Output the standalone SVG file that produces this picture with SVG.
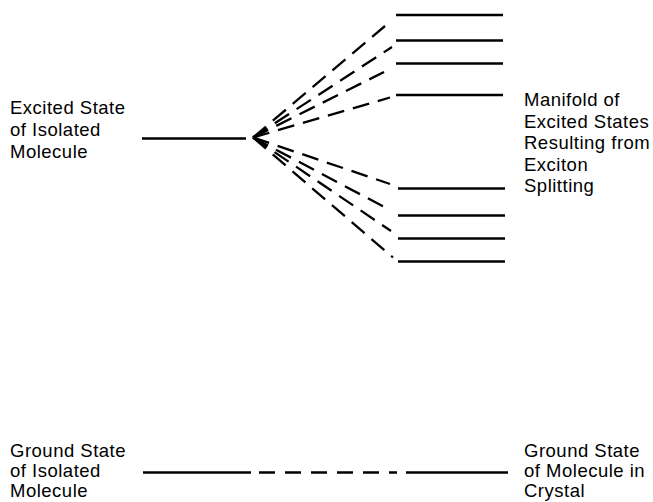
<svg xmlns="http://www.w3.org/2000/svg" width="653" height="502" viewBox="0 0 653 502">
<style>
.lvl{stroke:#000;stroke-width:2.3;fill:none}
.fan{stroke:#000;stroke-width:2.3;fill:none;stroke-dasharray:17 9}
.gnd{stroke:#000;stroke-width:2.3;fill:none;stroke-dasharray:16 10}
text{font-family:"Liberation Sans",Arial,sans-serif;font-size:18.5px;letter-spacing:0.5px;fill:#000}
</style>
<rect width="653" height="502" fill="#fff"/>
<g id="excited-isolated">
<line class="lvl" x1="142" y1="138.5" x2="246" y2="138.5"/>
<text x="10" y="113.5">Excited State</text>
<text x="10" y="135.5">of Isolated</text>
<text x="10" y="157.5">Molecule</text>
</g>
<g id="manifold">
<line class="lvl" x1="396" y1="15" x2="503" y2="15"/>
<line class="lvl" x1="396" y1="40.5" x2="503" y2="40.5"/>
<line class="lvl" x1="396" y1="63.5" x2="503" y2="63.5"/>
<line class="lvl" x1="396" y1="95" x2="503" y2="95"/>
<line class="lvl" x1="398" y1="188.5" x2="505" y2="188.5"/>
<line class="lvl" x1="398" y1="215.5" x2="505" y2="215.5"/>
<line class="lvl" x1="398" y1="238.5" x2="505" y2="238.5"/>
<line class="lvl" x1="398" y1="261.5" x2="505" y2="261.5"/>
<text x="524" y="106">Manifold of</text>
<text x="524" y="127.5">Excited States</text>
<text x="524" y="149">Resulting from</text>
<text x="524" y="170.5">Exciton</text>
<text x="524" y="192">Splitting</text>
</g>
<g id="ground-isolated">
<line class="lvl" x1="143" y1="472.5" x2="251" y2="472.5"/>
<text x="10" y="457">Ground State</text>
<text x="10" y="477">of Isolated</text>
<text x="10" y="496.5">Molecule</text>
</g>
<g id="ground-crystal">
<line class="lvl" x1="406" y1="472.5" x2="508" y2="472.5"/>
<text x="524" y="457">Ground State</text>
<text x="524" y="477">of Molecule in</text>
<text x="524" y="496.5">Crystal</text>
</g>
<g id="connectors">
<line class="fan" x1="253" y1="137.5" x2="385" y2="26"/>
<line class="fan" x1="253" y1="137.5" x2="392" y2="47"/>
<line class="fan" x1="253" y1="137.5" x2="384" y2="72"/>
<line class="fan" x1="253" y1="137.5" x2="390" y2="97.5"/>
<line class="fan" x1="253" y1="137.5" x2="390" y2="184"/>
<line class="fan" x1="253" y1="137.5" x2="389" y2="209.5"/>
<line class="fan" x1="253" y1="137.5" x2="391" y2="231"/>
<line class="fan" x1="253" y1="137.5" x2="393" y2="257.5"/>
<line class="gnd" x1="259" y1="472.5" x2="397" y2="472.5"/>
</g>
</svg>
